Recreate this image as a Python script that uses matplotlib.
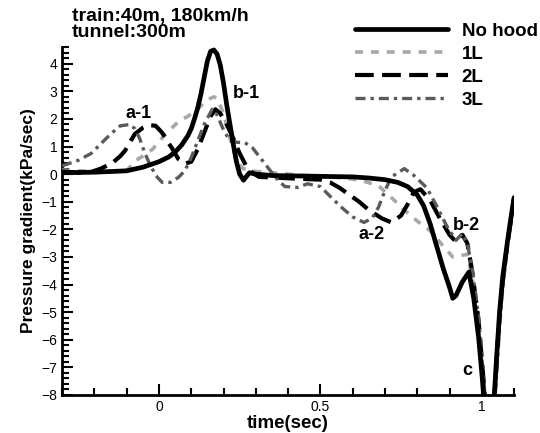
# Pressure gradient at tunnel exit: no hood vs hood lengths 1L/2L/3L

import matplotlib.pyplot as plt
from matplotlib.ticker import MultipleLocator

plt.rcParams['font.family'] = ['Liberation Sans', 'DejaVu Sans']

# --- Data ---
t_nohood = [-0.30, -0.20, -0.10, -0.05, 0.00, 0.03, 0.05, 0.07, 0.09, 0.10,
            0.11, 0.12, 0.13, 0.14, 0.15, 0.16, 0.17, 0.18, 0.19, 0.20,
            0.21, 0.22, 0.23, 0.24, 0.25, 0.262, 0.28, 0.30, 0.35, 0.40,
            0.50, 0.60, 0.65, 0.70, 0.74, 0.77, 0.80, 0.82, 0.84, 0.86,
            0.88, 0.90, 0.91, 0.92, 0.94, 0.96, 0.975, 0.99, 1.00, 1.01,
            1.025, 1.038, 1.045, 1.055, 1.065, 1.08, 1.09, 1.10]
p_nohood = [0.05, 0.07, 0.12, 0.25, 0.45, 0.62, 0.80, 1.05, 1.4, 1.65,
            2.0, 2.4, 2.9, 3.5, 4.1, 4.45, 4.5, 4.35, 3.95, 3.3,
            2.5, 1.8, 1.1, 0.45, 0.0, -0.22, 0.05, 0.0, -0.05, -0.06,
            -0.08, -0.1, -0.14, -0.2, -0.3, -0.45, -0.75, -1.15, -1.8, -2.6,
            -3.4, -4.1, -4.5, -4.4, -3.9, -3.55, -4.5, -5.9, -7.2, -8.6,
            -9.0, -8.2, -6.8, -5.0, -3.7, -2.4, -1.6, -0.85]

t_1l = [-0.30, -0.25, -0.20, -0.15, -0.10, -0.074, -0.05, -0.02, 0.02, 0.06,
        0.09, 0.12, 0.14, 0.16, 0.17, 0.18, 0.20, 0.22, 0.24, 0.26,
        0.28, 0.30, 0.35, 0.40, 0.45, 0.50, 0.55, 0.60, 0.63, 0.68,
        0.72, 0.76, 0.80, 0.84, 0.88, 0.91, 0.935, 0.955, 0.97, 0.985,
        1.00, 1.008, 1.02, 1.035, 1.045, 1.055, 1.065, 1.08, 1.09, 1.10]
p_1l = [0.15, 0.12, 0.10, 0.08, 0.12, 0.48, 0.65, 0.9, 1.45, 1.9,
        2.1, 2.35, 2.6, 2.75, 2.8, 2.75, 2.2, 1.3, 0.5, 0.2,
        0.15, 0.1, 0.05, 0.0, -0.05, -0.08, -0.12, -0.18, -0.24, -0.42,
        -0.85, -1.3, -1.7, -2.05, -2.6, -3.0, -2.95, -2.9, -3.7, -5.0,
        -6.8, -8.0, -9.0, -8.5, -6.6, -5.1, -3.8, -2.45, -1.65, -0.85]

t_2l = [-0.30, -0.25, -0.21, -0.18, -0.145, -0.12, -0.105, -0.09, -0.075, -0.05,
        -0.03, -0.01, 0.01, 0.025, 0.04, 0.06, 0.08, 0.10, 0.12, 0.14,
        0.16, 0.175, 0.19, 0.21, 0.23, 0.25, 0.27, 0.29, 0.31, 0.40,
        0.50, 0.53, 0.56, 0.59, 0.62, 0.65, 0.69, 0.72, 0.75, 0.77,
        0.79, 0.81, 0.84, 0.87, 0.90, 0.92, 0.94, 0.955, 0.97, 0.99,
        1.005, 1.015, 1.03, 1.042, 1.05, 1.06, 1.075, 1.09, 1.10]
p_2l = [0.1, 0.05, 0.08, 0.2, 0.4, 0.65, 0.85, 1.15, 1.45, 1.68,
        1.78, 1.75, 1.5, 1.2, 0.95, 0.55, 0.38, 0.45, 0.9, 1.5,
        2.1, 2.35, 2.2, 1.8, 1.3, 0.75, 0.3, 0.05, -0.1, -0.15,
        -0.2, -0.3, -0.5, -0.75, -1.0, -1.3, -1.6, -1.75, -1.5, -1.1,
        -0.65, -0.55, -0.95, -1.6, -2.2, -2.45, -2.2, -2.5, -3.5, -5.3,
        -7.4, -8.8, -9.0, -7.6, -6.0, -4.4, -2.9, -1.7, -0.85]

t_3l = [-0.30, -0.25, -0.21, -0.18, -0.15, -0.12, -0.09, -0.075, -0.06, -0.045,
        -0.03, -0.01, 0.01, 0.035, 0.06, 0.08, 0.10, 0.12, 0.14, 0.165,
        0.18, 0.20, 0.22, 0.245, 0.265, 0.29, 0.32, 0.34, 0.365, 0.39,
        0.43, 0.46, 0.50, 0.53, 0.565, 0.60, 0.635, 0.66, 0.68, 0.70,
        0.72, 0.76, 0.79, 0.83, 0.86, 0.89, 0.92, 0.94, 0.955, 0.97,
        0.99, 1.005, 1.015, 1.035, 1.045, 1.055, 1.065, 1.08, 1.09, 1.10]
p_3l = [0.3, 0.5, 0.75, 1.1, 1.45, 1.75, 1.8, 1.65, 1.3, 0.8,
        0.4, -0.05, -0.3, -0.3, -0.12, 0.12, 0.6, 1.2, 1.8, 2.35,
        2.15, 1.6, 1.2, 1.15, 1.15, 0.95, 0.5, 0.2, -0.17, -0.45,
        -0.48, -0.35, -0.45, -0.8, -1.2, -1.55, -1.75, -1.6, -1.2, -0.6,
        -0.1, 0.2, -0.05, -0.5, -1.15, -1.85, -2.4, -2.15, -2.5, -3.4,
        -5.2, -7.3, -8.8, -9.0, -7.4, -5.6, -4.1, -2.6, -1.7, -0.85]

labels = ['No hood', '1L', '2L', '3L']

# --- Plot ---
fig = plt.figure(figsize=(5.4, 4.33), dpi=100)
ax = fig.add_axes([0.115, 0.088, 0.837, 0.803])

ax.plot(t_nohood, p_nohood, color='black', lw=3.4, solid_capstyle='round', label=labels[0], zorder=4)
ax.plot(t_1l, p_1l, color='#a8a8a8', lw=2.6, linestyle=(0, (2.2, 2.2)), label=labels[1], zorder=3)
ax.plot(t_2l, p_2l, color='black', lw=3.0, linestyle=(0, (4.5, 2.0)), label=labels[2], zorder=3)
ax.plot(t_3l, p_3l, color='#5a5a5a', lw=2.4, linestyle=(0, (3.0, 1.5, 1.0, 1.5)), label=labels[3], zorder=3)

ax.set_xlim(-0.3, 1.1)
ax.set_ylim(-8, 4.6)
ax.xaxis.set_major_locator(MultipleLocator(0.5))
ax.xaxis.set_minor_locator(MultipleLocator(0.1))
ax.yaxis.set_major_locator(MultipleLocator(1))
ax.yaxis.set_minor_locator(MultipleLocator(0.2))
ax.set_xticks([0, 0.5, 1])
ax.set_xticklabels(['0', '0.5', '1'])
ax.tick_params(which='both', direction='in', width=1.5, labelsize=10)
ax.tick_params(which='major', length=8)
ax.tick_params(which='minor', length=5)
for side in ['top', 'right']:
    ax.spines[side].set_visible(False)
for side in ['left', 'bottom']:
    ax.spines[side].set_linewidth(2)

ax.set_xlabel('time(sec)', fontsize=13.5, fontweight='bold', labelpad=1)
ax.set_ylabel('Pressure gradient(kPa/sec)', fontsize=12.5, fontweight='bold', labelpad=4)

# peak / trough markers
ann = dict(fontsize=13, fontweight='bold', ha='center', va='center')
ax.text(-0.062, 2.18, 'a-1', **ann)
ax.text(0.272, 2.94, 'b-1', **ann)
ax.text(0.66, -2.18, 'a-2', **ann)
ax.text(0.951, -1.86, 'b-2', **ann)
ax.text(0.954, -7.13, 'c', **ann)

fig.text(0.133, 0.982, 'train:40m, 180km/h\ntunnel:300m', fontsize=14, fontweight='bold',
         ha='left', va='top', linespacing=0.95)

ax.legend(loc='upper left', bbox_to_anchor=(0.657, 0.948), bbox_transform=fig.transFigure,
          frameon=False, handlelength=4.96, handletextpad=0.75, labelspacing=0.32,
          borderpad=0, borderaxespad=0, prop={'size': 13.5, 'weight': 'bold'})

plt.savefig('out.png', dpi=100)
plt.close()
